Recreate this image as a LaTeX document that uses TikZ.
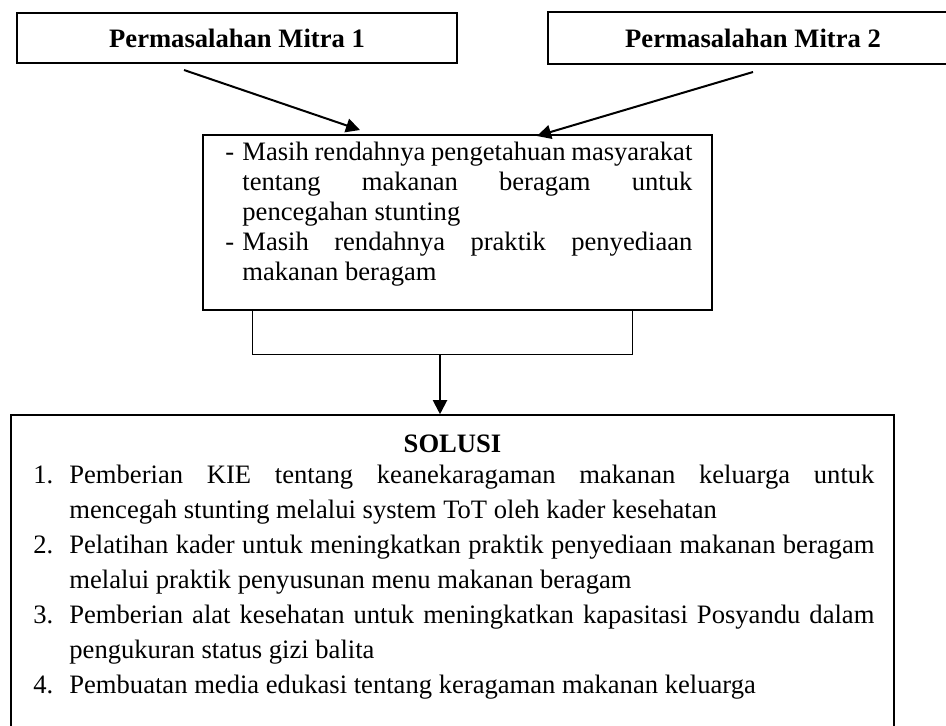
\documentclass[tikz,border=0pt]{standalone}
\usepackage{fontspec}
\setmainfont{Liberation Serif}
\usetikzlibrary{arrows.meta,positioning,calc}

\begin{document}
\begin{tikzpicture}[x=0.5pt,y=-0.5pt,
    kotak/.style={draw, line width=0.8pt, inner sep=0pt},
    judul/.style={font=\fontsize{13.3pt}{15.2pt}\selectfont\bfseries},
    isi/.style={inner sep=0pt, anchor=base west, align=justify},
    panah/.style={-{Triangle[length=7pt,width=7pt]}, line width=1pt},
    garis/.style={line width=0.5pt}]
    \path[use as bounding box, clip] (0,0) rectangle (946,725);
    \tolerance=9999 \hbadness=10000

    % Permasalahan mitra
    \node[kotak, judul, minimum width=220pt, minimum height=25pt] (mitra1) at (237,38) {Permasalahan Mitra 1};
    \node[kotak, judul, minimum width=205pt, minimum height=26pt] (mitra2) at (753,38) {Permasalahan Mitra 2};

    % Kotak masalah
    \node[kotak, minimum width=254.5pt, minimum height=87.5pt] (masalah) at (457.5,222.5) {};
    \node[isi, text width=233.5pt, font=\fontsize{13.3pt}{15.1pt}\selectfont] (masalahtxt) at (225,160) {%
      \hangindent=8.5pt\hangafter=1\leavevmode\makebox[8.5pt][l]{-}Masih rendahnya pengetahuan masyarakat\linebreak
      tentang makanan beragam untuk\linebreak pencegahan stunting\par
      \hangindent=8.5pt\hangafter=1\leavevmode\makebox[8.5pt][l]{-}Masih rendahnya praktik penyediaan\linebreak
      makanan beragam\par};

    % Panah ke masalah
    \coordinate (m1a) at (184,70);
    \coordinate (m1b) at (360,130);
    \coordinate (m2a) at (753,72);
    \coordinate (m2b) at (537,136);
    \draw[panah] (m1a) -- (m1b);
    \draw[panah] (m2a) -- (m2b);

    % Kotak solusi
    \node[kotak, minimum width=441.5pt, minimum height=160pt] (solusi) at (452.5,575) {};
    \node[judul, inner sep=0pt, anchor=base] (solusijudul) at (452.5,452) {SOLUSI};
    \node[isi, text width=420.5pt, font=\fontsize{13.3pt}{17.5pt}\selectfont] (solusitxt) at (33,483) {%
      \hangindent=18pt\hangafter=1\leavevmode\makebox[18pt][l]{1.}Pemberian KIE tentang keanekaragaman makanan keluarga untuk\linebreak
      mencegah stunting melalui system ToT oleh kader kesehatan\par
      \hangindent=18pt\hangafter=1\leavevmode\makebox[18pt][l]{2.}Pelatihan kader untuk meningkatkan praktik penyediaan makanan beragam\linebreak
      melalui praktik penyusunan menu makanan beragam\par
      \hangindent=18pt\hangafter=1\leavevmode\makebox[18pt][l]{3.}Pemberian alat kesehatan untuk meningkatkan kapasitasi Posyandu dalam\linebreak
      pengukuran status gizi balita\par
      \hangindent=18pt\hangafter=1\leavevmode\makebox[18pt][l]{4.}Pembuatan media edukasi tentang keragaman makanan keluarga\par};

    % Kurung dan panah ke solusi
    \coordinate (kiri) at ($(masalah.south)+(-205.5,0)$);
    \coordinate (kanan) at ($(masalah.south)+(174.5,0)$);
    \draw[garis] (kiri) -- ++(0,44) -| (kanan);
    \coordinate (sambung) at (440,354);
    \draw[panah] (sambung) -- (sambung |- solusi.north);
\end{tikzpicture}
\end{document}
